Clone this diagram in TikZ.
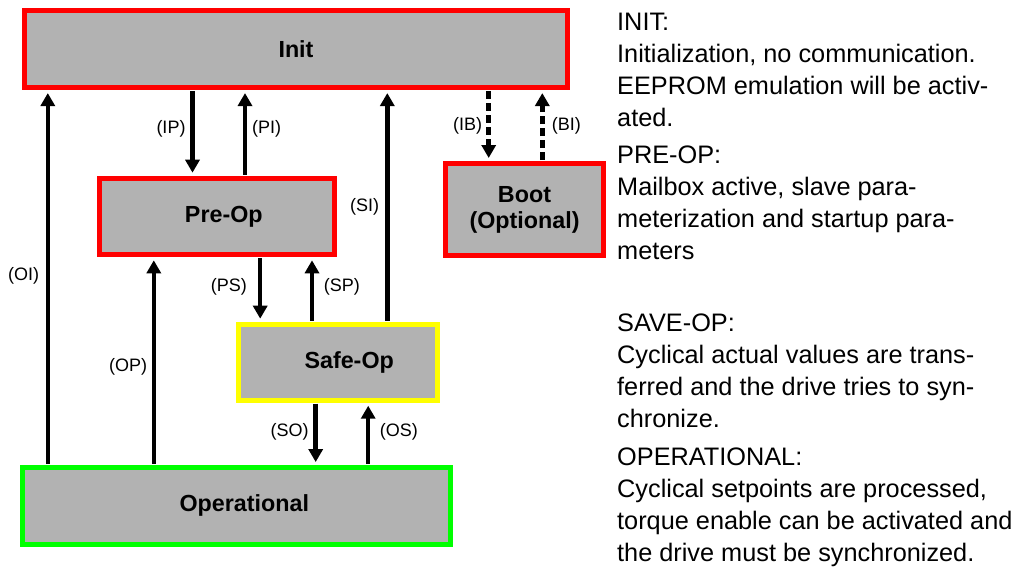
\documentclass[tikz,border=0pt]{standalone}
\usepackage{fontspec}
\setmainfont{Liberation Sans}
\usetikzlibrary{arrows.meta}

\definecolor{boxgray}{RGB}{178,178,178}
\definecolor{initred}{RGB}{255,0,0}
\definecolor{safeyellow}{RGB}{255,255,0}
\definecolor{opgreen}{RGB}{0,255,0}

\begin{document}
\begin{tikzpicture}[
    x=1pt, y=-1pt,
    statebox/.style={rectangle, fill=boxgray, line width=5pt, inner sep=0pt, align=center, font=\fontsize{23.3}{26}\selectfont\bfseries},
    trans/.style={-{Triangle[length=13pt, width=14pt]}, line width=4.5pt, shorten >=3pt, shorten <=1pt},
    dashtrans/.style={trans, dash pattern=on 8pt off 4pt},
    tlabel/.style={font=\fontsize{18}{20}\selectfont, inner sep=0pt},
    desc/.style={font=\fontsize{25.3}{32}\selectfont, align=left, anchor=north west, inner sep=0pt}
]
    \useasboundingbox (0,0) rectangle (1019,566);

    % States
    \node[statebox, draw=initred, minimum width=543pt, minimum height=76.7pt] (init) at (296,49.2) {Init};
    \node[statebox, draw=initred, minimum width=235pt, minimum height=76.6pt] (pre) at (216.8,216.5) {\hspace*{14pt}Pre-Op};
    \node[statebox, draw=initred, minimum width=158pt, minimum height=92pt] (boot) at (524.5,209.5) {Boot\\(Optional)};
    \node[statebox, draw=safeyellow, minimum width=198.5pt, minimum height=76pt] (safe) at (338.2,362.2) {\hspace*{22pt}Safe-Op};
    \node[statebox, draw=opgreen, minimum width=428pt, minimum height=76.7pt] (op) at (236.3,505.9) {\hspace*{16pt}Operational};

    % Transitions
    \draw[trans] ([xshift=-103.5pt]init.south) coordinate (ip) -- (ip |- pre.north);
    \draw[trans] ([xshift=28.2pt]pre.north) coordinate (pi) -- (pi |- init.south);
    \draw[trans] ([xshift=43.4pt]pre.south) coordinate (ps) -- (ps |- safe.north);
    \draw[trans] ([xshift=-26.2pt]safe.north) coordinate (sp) -- (sp |- pre.south);
    \draw[trans] ([xshift=49.1pt]safe.north) coordinate (si) -- (si |- init.south);
    \draw[trans] ([xshift=-22.5pt]safe.south) coordinate (so) -- (so |- op.north);
    \draw[trans] ([xshift=131.9pt]op.north) coordinate (os) -- (os |- safe.south);
    \draw[trans] ([xshift=-82.5pt]op.north) coordinate (opp) -- (opp |- pre.south);
    \draw[trans] ([xshift=-188.5pt]op.north) coordinate (oi) -- (oi |- init.south);
    \draw[dashtrans] ([xshift=192.7pt]init.south) coordinate (ib) -- (ib |- boot.north);
    \draw[dashtrans] ([xshift=17.8pt]boot.north) coordinate (bi) -- (bi |- init.south);

    % Transition labels
    \node[tlabel] (lblIP) at (171,129) {(IP)};
    \node[tlabel] (lblPI) at (266.7,129) {(PI)};
    \node[tlabel] (lblSI) at (364.7,207) {(SI)};
    \node[tlabel] (lblIB) at (467.7,126) {(IB)};
    \node[tlabel] (lblBI) at (566.4,126) {(BI)};
    \node[tlabel] (lblOI) at (23.7,276) {(OI)};
    \node[tlabel] (lblPS) at (228.9,287) {(PS)};
    \node[tlabel] (lblSP) at (341.8,287) {(SP)};
    \node[tlabel] (lblOP) at (128.2,367) {(OP)};
    \node[tlabel] (lblSO) at (289.7,432) {(SO)};
    \node[tlabel] (lblOS) at (398.8,432) {(OS)};

    % State descriptions
    \node[desc] (txtInit) at (617,12.6) {INIT:\\Initialization, no communication.\\EEPROM emulation will be activ-\\ated.};
    \node[desc] (txtPre) at (617,145.9) {PRE-OP:\\Mailbox active, slave para-\\meterization and startup para-\\meters};
    \node[desc] (txtSafe) at (617,313.9) {SAVE-OP:\\Cyclical actual values are trans-\\ferred and the drive tries to syn-\\chronize.};
    \node[desc] (txtOp) at (617,447.9) {OPERATIONAL:\\Cyclical setpoints are processed,\\torque enable can be activated and\\the drive must be synchronized.};

\end{tikzpicture}
\end{document}
